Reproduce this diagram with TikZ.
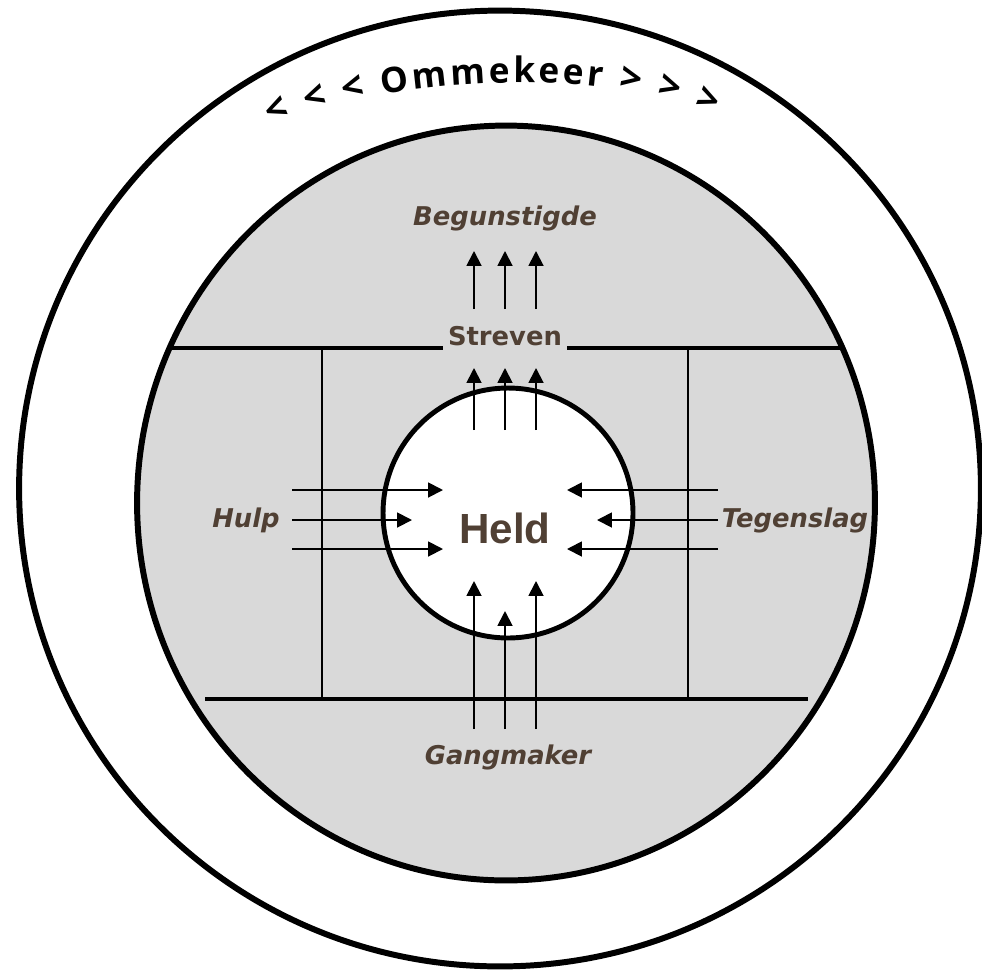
\documentclass[tikz,border=0pt]{standalone}
\usepackage{fontspec}
\setmainfont{DejaVu Sans}
\newfontfamily\heldfont{Liberation Sans}
\newfontfamily\turnfont{Open Sans}
\newcommand\chevfont{\turnfont\bfseries\fontsize{22}{26}\selectfont}
\newcommand\wordfont{\turnfont\bfseries\fontsize{20}{24}\selectfont}
\usetikzlibrary{arrows.meta, decorations.text}
\definecolor{cbrown}{HTML}{504034}
\definecolor{cfill}{HTML}{D9D9D9}
\tikzset{
  every picture/.style={x=0.02cm, y=-0.02cm},
  ring/.style={draw=black, line width=3.4pt},
  bar/.style={draw=black, line width=2.8pt},
  post/.style={draw=black, line width=1.1pt},
  push/.style={-{Triangle[length=8.5pt, width=8.5pt]}, line width=1.1pt},
  role/.style={font=\bfseries\itshape\fontsize{14.7}{17}\selectfont, text=cbrown, inner sep=1pt},
  goal/.style={font=\bfseries\fontsize{14.7}{17}\selectfont, text=cbrown, inner sep=1pt},
}

\begin{document}
\begin{tikzpicture}
  \useasboundingbox (0,0) rectangle (982,970);
  % rings
  \draw[ring, fill=white] (500,488.5) ellipse [x radius=9.62cm, y radius=9.56cm];
  \draw[ring, fill=cfill] (506,503) ellipse [x radius=7.38cm, y radius=7.55cm];
  \path[decorate, decoration={text along path,
      text={|\chevfont|< < < |\wordfont|Ommekeer |\chevfont|> > >},
      text align={fit to path}}]
    (271,126) .. controls (400,72) and (610,68) .. (714,116);

  % frame
  \node[goal] (streven) at (505,336) {Streven};
  \draw[bar] (169,348) -- (443,348);
  \draw[bar] (567,348) -- (840,348);
  \draw[bar] (205,699) -- (808,699);
  \draw[post] (322,348) -- (322,699);
  \draw[post] (688,348) -- (688,699);

  % hero
  \node[circle, draw=black, line width=2.8pt, fill=white, minimum size=5cm, inner sep=0pt] (hero) at (508,513) {};
  \node[font=\heldfont\bfseries\fontsize{24}{28}\selectfont, text=cbrown] (held) at (505,528) {Held};

  \node[role] (begunstigde) at (505,218) {Begunstigde};
  \node[role] (hulp) at (246,520) {Hulp};
  \node[role] (tegenslag) at (795,520) {Tegenslag};
  \node[role] (gangmaker) at (508,757) {Gangmaker};

  % arrows
  \foreach \x in {474,505,536} {
    \draw[push] (\x,309) -- (\x,251);
    \draw[push] (\x,430) -- (\x,368);
  }
  \draw[push] (474,729) -- (474,581);
  \draw[push] (505,729) -- (505,611);
  \draw[push] (536,729) -- (536,581);
  \draw[push] (292,490) -- (443,490);
  \draw[push] (292,520) -- (412,520);
  \draw[push] (292,549) -- (443,549);
  \draw[push] (718,490) -- (567,490);
  \draw[push] (718,520) -- (597,520);
  \draw[push] (718,549) -- (567,549);
\end{tikzpicture}
\end{document}
